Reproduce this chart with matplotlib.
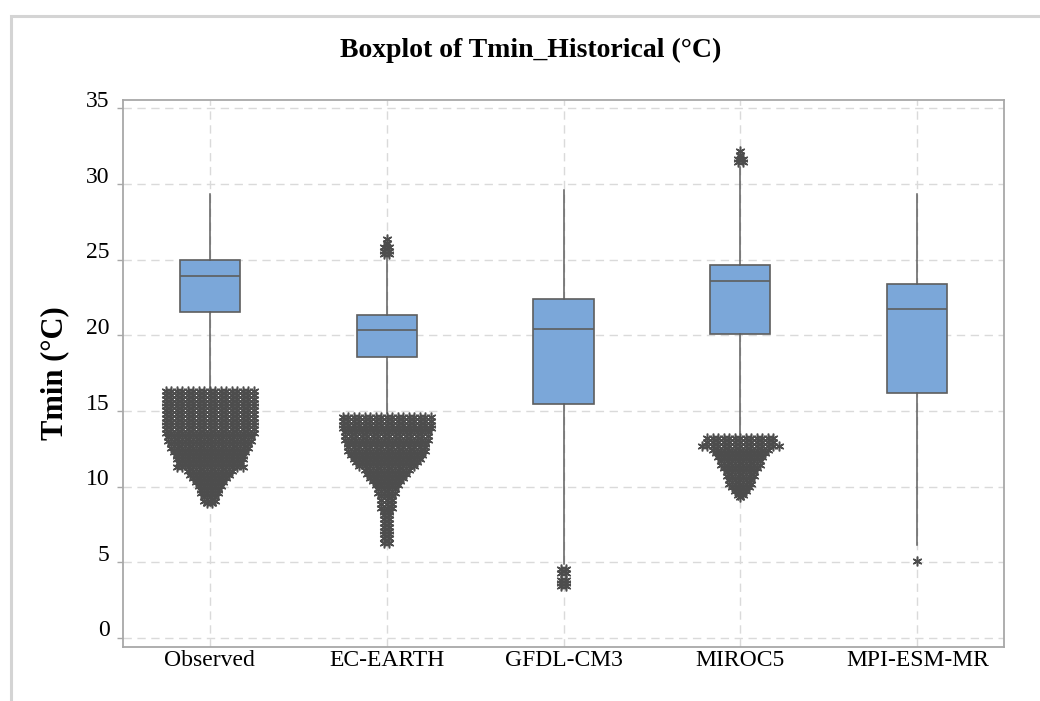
import numpy as np
import matplotlib
matplotlib.use("Agg")
import matplotlib.pyplot as plt
from matplotlib.patches import Rectangle
from matplotlib.transforms import ScaledTranslation

# ---------------- data ----------------
categories = ["Observed", "EC-EARTH", "GFDL-CM3", "MIROC5", "MPI-ESM-MR"]
q1 = [21.55, 18.6, 15.45, 20.1, 16.2]
median = [23.9, 20.35, 20.4, 23.6, 21.75]
q3 = [25.0, 21.35, 22.4, 24.65, 23.4]
whisker_low = [16.45, 14.85, 4.9, 13.45, 6.15]
whisker_high = [29.35, 25.2, 29.6, 31.1, 29.35]

# outliers: distinct values and how often each one occurs
obs_out_values = [16.3, 16.05, 15.8, 15.55, 15.3, 15.05, 14.8, 14.55, 14.3, 14.05,
                  13.8, 13.55, 13.3, 13.05, 12.8, 12.55, 12.3, 12.05, 11.8, 11.55,
                  11.3, 11.05, 10.8, 10.55, 10.3, 10.05, 9.8, 9.55, 9.3, 9.05, 8.9]
obs_out_counts = [17, 17, 17, 17, 17, 17, 17, 17, 17, 17,
                  17, 17, 16, 16, 15, 15, 14, 13, 13, 12,
                  13, 9, 8, 7, 6, 5, 4, 4, 3, 3, 2]

ec_out_values = [26.35, 26.1, 25.85, 25.6, 25.4,
                 14.6, 14.35, 14.1, 13.85, 13.6, 13.35, 13.1, 12.85, 12.6, 12.35,
                 12.1, 11.85, 11.6, 11.35, 11.1, 10.85, 10.6, 10.35, 10.1, 9.85,
                 9.6, 9.35, 9.1, 8.85, 8.6, 8.35, 8.1, 7.85, 7.6, 7.35,
                 7.1, 6.85, 6.6, 6.3]
ec_out_counts = [1, 1, 2, 2, 2,
                 17, 17, 17, 17, 16, 16, 16, 15, 15, 15,
                 14, 13, 12, 11, 9, 8, 7, 6, 5, 4,
                 4, 3, 3, 3, 3, 2, 2, 2, 2, 2,
                 2, 2, 2, 2]

gfdl_out_values = [4.55, 4.3, 3.85, 3.6, 3.45]
gfdl_out_counts = [2, 2, 2, 2, 2]

miroc_out_values = [32.2, 31.95, 31.65, 31.45,
                    13.2, 12.95, 12.7, 12.45, 12.2, 11.95, 11.7, 11.45, 11.2,
                    10.95, 10.7, 10.45, 10.2, 9.95, 9.7, 9.45, 9.3]
miroc_out_counts = [1, 1, 2, 2,
                    13, 13, 15, 11, 10, 9, 8, 8, 7,
                    6, 6, 5, 5, 4, 3, 2, 1]

mpi_out_values = [5.1]
mpi_out_counts = [1]

y_ticks = [0, 5, 10, 15, 20, 25, 30, 35]

out_values = [obs_out_values, ec_out_values, gfdl_out_values, miroc_out_values, mpi_out_values]
out_counts = [obs_out_counts, ec_out_counts, gfdl_out_counts, miroc_out_counts, mpi_out_counts]

# ---------------- style ----------------
box_color = "#7BA7D9"
edge_color = "#5E5E5E"
marker_color = "#4D4D4D"
grid_color = "#DADADA"
spine_color = "#A8A8A8"
serif = ["Liberation Serif", "DejaVu Serif"]

fig = plt.figure(figsize=(10.4, 7.01), dpi=100)
fig.patch.set_facecolor("white")
ax = fig.add_axes([123 / 1040, 1 - 647 / 701, (1004 - 123) / 1040, (647 - 100) / 701])

positions = np.arange(1, len(categories) + 1)
stats = []
for i in range(len(categories)):
    stats.append(dict(med=median[i], q1=q1[i], q3=q3[i],
                      whislo=whisker_low[i], whishi=whisker_high[i], fliers=[]))

ax.bxp(stats, positions=positions, widths=0.34, patch_artist=True,
       showcaps=False, showfliers=False,
       boxprops=dict(facecolor=box_color, edgecolor=edge_color, linewidth=1.2),
       medianprops=dict(color=edge_color, linewidth=1.2),
       whiskerprops=dict(color=edge_color, linewidth=1.1),
       zorder=3)

# outliers: tied values spread side by side (Minitab style)
dx = 5.5 / 176.75
for i, pos in enumerate(positions):
    xs, ys = [], []
    for v, n in zip(out_values[i], out_counts[i]):
        offs = (np.arange(n) - (n - 1) / 2) * dx
        xs.extend(pos + offs)
        ys.extend([v] * n)
    ax.plot(xs, ys, linestyle="none", marker=(6, 2, 0), markersize=7,
            markeredgewidth=1.1, color=marker_color, zorder=4)

ax.set_xlim(0.51, 5.49)
ax.set_ylim(-0.6, 35.56)
ax.set_xticks(positions)
ax.set_xticklabels(categories, fontsize=17, family=serif)
ax.set_yticks(y_ticks)
ax.set_yticklabels([str(t) for t in y_ticks], fontsize=17, family=serif)

ax.set_axisbelow(True)
ax.grid(True, color=grid_color, linestyle=(0, (6, 4)), linewidth=1.0)
for s in ax.spines.values():
    s.set_color(spine_color)
    s.set_linewidth(1.3)
ax.tick_params(axis="y", direction="out", length=4.5, width=1.0, color=spine_color, pad=5)
ax.tick_params(axis="x", length=0, pad=2)

# Minitab puts y labels slightly above the tick
for lab in ax.get_yticklabels():
    lab.set_transform(lab.get_transform() + ScaledTranslation(0, 9.5 / 100, fig.dpi_scale_trans))

ax.set_ylabel("Tmin (°C)", fontsize=22, fontweight="bold", family=serif, labelpad=12)
fig.text(531 / 1040, 1 - 50 / 701, "Boxplot of Tmin_Historical (°C)", ha="center", va="center",
         fontsize=20, fontweight="bold", family=serif)

# light frame around the graph window
fig.patches.append(Rectangle((10.5 / 1040, -0.2), 1.5, 1 - 15.5 / 701 + 0.2,
                             transform=fig.transFigure, fill=False,
                             edgecolor="#D4D4D4", linewidth=2.2))

fig.savefig("out.png", dpi=100)
